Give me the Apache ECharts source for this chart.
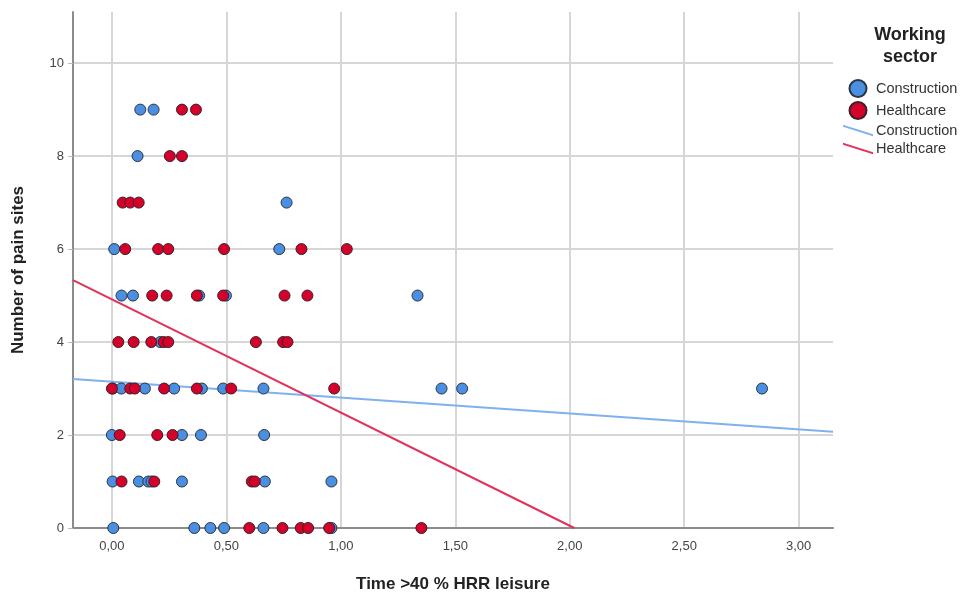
<!DOCTYPE html>
<html lang="en">
<head>
    <meta charset="UTF-8">
    <title>Pain sites vs leisure time</title>
    <script src="https://cdn.jsdelivr.net/npm/echarts@6.0.0/dist/echarts.min.js"></script>
    <style>
        html, body { margin: 0; padding: 0; background: #fff; }
        #chart { width: 974px; height: 598px; }
    </style>
</head>
<body>
    <div id="chart"></div>
    <script type="text/javascript">
        // scatter points, [time >40 % HRR leisure, number of pain sites]
        var construction = [
            [0.124, 9], [0.182, 9], [0.112, 8], [0.763, 7],
            [0.010, 6], [0.731, 6],
            [0.042, 5], [0.092, 5], [0.381, 5], [0.498, 5], [1.335, 5],
            [0.211, 4],
            [0.004, 3], [0.041, 3], [0.144, 3], [0.272, 3], [0.393, 3], [0.486, 3], [0.662, 3], [1.44, 3], [1.53, 3], [2.84, 3],
            [0.000, 2], [0.306, 2], [0.389, 2], [0.665, 2],
            [0.003, 1], [0.118, 1], [0.159, 1], [0.173, 1], [0.306, 1], [0.668, 1], [0.959, 1],
            [0.006, 0], [0.360, 0], [0.430, 0], [0.490, 0], [0.662, 0], [0.959, 0]
        ];
        var healthcare = [
            [0.306, 9], [0.367, 9],
            [0.253, 8], [0.306, 8],
            [0.047, 7], [0.080, 7], [0.117, 7],
            [0.058, 6], [0.202, 6], [0.246, 6], [0.490, 6], [0.828, 6], [1.026, 6],
            [0.176, 5], [0.239, 5], [0.371, 5], [0.486, 5], [0.754, 5], [0.854, 5],
            [0.028, 4], [0.095, 4], [0.172, 4], [0.226, 4], [0.246, 4], [0.629, 4], [0.748, 4], [0.767, 4],
            [0.000, 3], [0.080, 3], [0.100, 3], [0.228, 3], [0.371, 3], [0.521, 3], [0.971, 3],
            [0.034, 2], [0.198, 2], [0.265, 2],
            [0.042, 1], [0.185, 1], [0.611, 1], [0.624, 1],
            [0.600, 0], [0.745, 0], [0.825, 0], [0.857, 0], [0.949, 0], [1.352, 0]
        ];

        // fit line end points
        var constructionFit = [[-0.17, 3.205], [3.15, 2.07]];
        var healthcareFit = [[-0.17, 5.33], [2.02, 0]];

        var xMin = -0.17, xMax = 3.15;
        var yMin = 0, yMax = 11.1;
        var legendNames = ['Construction', 'Healthcare', 'Construction fit', 'Healthcare fit'];

        var blue = '#4a8fe2', red = '#d4022b';
        var blueLine = '#7fb1ef', redLine = '#e2325a';
        var gridColor = '#d6d6d6';
        var lineIcon = 'path://M0,0L30,9.5L30,11.5L0,2Z';

        var myChart = echarts.init(document.getElementById('chart'));

        var option = {
            animation: false,
            backgroundColor: '#fff',
            title: {
                text: 'Working\nsector',
                left: 905,
                top: 19,
                textAlign: 'center',
                textStyle: { fontFamily: 'Liberation Sans', fontSize: 18, fontWeight: 'bold', color: '#222', lineHeight: 22 }
            },
            legend: {
                orient: 'vertical',
                left: 838,
                top: 74,
                itemWidth: 30,
                itemHeight: 17,
                itemGap: 3,
                selectedMode: false,
                formatter: function (name) { return name.replace(' fit', ''); },
                textStyle: { fontFamily: 'Liberation Sans', fontSize: 14.5, color: '#333', padding: [0, 0, 0, -2] },
                data: [
                    { name: legendNames[0], icon: 'circle' },
                    { name: legendNames[1], icon: 'circle' },
                    { name: legendNames[2], icon: lineIcon },
                    { name: legendNames[3], icon: lineIcon }
                ]
            },
            grid: { left: 73, right: 141, top: 12, bottom: 66, containLabel: false },
            xAxis: {
                type: 'value',
                min: xMin,
                max: xMax,
                splitNumber: 6,
                name: 'Time >40 % HRR leisure',
                nameLocation: 'middle',
                nameGap: 48,
                nameTextStyle: { fontFamily: 'Liberation Sans', fontSize: 17, fontWeight: 'bold', color: '#222' },
                axisLine: { show: true, onZero: false, lineStyle: { color: '#8c8c8c', width: 2 } },
                axisTick: { show: false },
                axisLabel: {
                    showMinLabel: false,
                    showMaxLabel: false,
                    margin: 12,
                    fontFamily: 'Liberation Sans Narrow, Liberation Sans',
                    fontSize: 13,
                    color: '#444',
                    formatter: function (v) { return v.toFixed(2).replace('.', ','); }
                },
                splitLine: { show: true, showMinLine: false, showMaxLine: false, lineStyle: { color: gridColor, width: 2 } }
            },
            yAxis: {
                type: 'value',
                min: yMin,
                max: yMax,
                interval: 2,
                name: 'Number of pain sites',
                nameLocation: 'middle',
                nameGap: 46,
                nameTextStyle: { fontFamily: 'Liberation Sans', fontSize: 17, fontWeight: 'bold', color: '#222' },
                axisLine: { show: true, onZero: false, lineStyle: { color: '#8c8c8c', width: 2 } },
                axisTick: { show: true, length: 5, lineStyle: { color: '#bbb' } },
                axisLabel: {
                    showMaxLabel: false,
                    margin: 9,
                    fontFamily: 'Liberation Sans Narrow, Liberation Sans',
                    fontSize: 13,
                    color: '#444'
                },
                splitLine: { show: true, showMaxLine: false, lineStyle: { color: gridColor, width: 2 } }
            },
            series: [
                {
                    name: legendNames[2],
                    type: 'line',
                    data: constructionFit,
                    symbol: 'none',
                    z: 3,
                    lineStyle: { color: blueLine, width: 2 },
                    itemStyle: { color: blueLine }
                },
                {
                    name: legendNames[3],
                    type: 'line',
                    data: healthcareFit,
                    symbol: 'none',
                    z: 3,
                    lineStyle: { color: redLine, width: 2 },
                    itemStyle: { color: redLine }
                },
                {
                    name: legendNames[0],
                    type: 'scatter',
                    data: construction,
                    symbolSize: 11,
                    z: 4,
                    itemStyle: { color: blue, borderColor: '#2b3440', borderWidth: 1, opacity: 1 }
                },
                {
                    name: legendNames[1],
                    type: 'scatter',
                    data: healthcare,
                    symbolSize: 11,
                    z: 5,
                    itemStyle: { color: red, borderColor: '#3a2028', borderWidth: 1, opacity: 1 }
                }
            ]
        };
        myChart.setOption(option);
    </script>
</body>
</html>
